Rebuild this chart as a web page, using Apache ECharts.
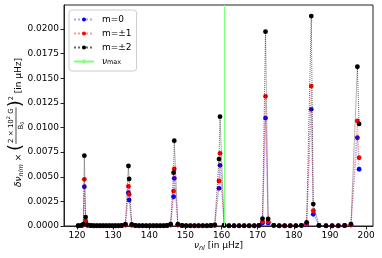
<!DOCTYPE html>
<html><head><meta charset="utf-8">
<script src="https://cdn.jsdelivr.net/npm/echarts@6/dist/echarts.min.js"></script>
<style>html,body{margin:0;padding:0;background:#fff}#c{width:382px;height:258px}</style>
</head><body><div id="c"></div>
<script>
// ---- data ----
const freq = [120.30,121.15,121.75,122.03,122.39,122.95,123.80,124.65,125.50,126.35,127.20,128.05,128.90,129.75,130.60,131.45,132.35,133.40,134.23,134.43,135.15,136.15,137.15,138.15,139.15,140.15,141.10,142.05,143.00,143.95,144.90,145.90,146.72,146.91,147.90,149.05,150.20,151.35,152.50,153.65,154.80,155.95,157.05,158.10,159.29,159.57,160.70,162.05,163.45,164.85,166.25,167.65,169.05,170.35,171.33,172.16,172.89,174.45,175.95,177.45,179.00,180.55,182.10,183.54,184.82,185.37,186.95,188.90,190.60,192.30,194.05,195.80,197.58,198.05];
const dnu_m0 = [0.00002,0.00003,0.00010,0.00399,0.00042,0.00006,0.00003,0.00002,0.00002,0.00002,0.00002,0.00002,0.00002,0.00002,0.00002,0.00002,0.00003,0.00010,0.00338,0.00264,0.00008,0.00003,0.00002,0.00002,0.00002,0.00002,0.00002,0.00002,0.00002,0.00002,0.00003,0.00010,0.00297,0.00484,0.00010,0.00003,0.00002,0.00002,0.00002,0.00002,0.00002,0.00002,0.00003,0.00006,0.00383,0.00616,0.00005,0.00002,0.00002,0.00002,0.00002,0.00002,0.00002,0.00004,0.00030,0.01096,0.00030,0.00004,0.00002,0.00002,0.00002,0.00002,0.00004,0.00015,0.01185,0.00119,0.00004,0.00002,0.00002,0.00002,0.00003,0.00010,0.00896,0.00576];
const dnu_m1 = [0.00002,0.00004,0.00013,0.00474,0.00054,0.00008,0.00003,0.00002,0.00002,0.00002,0.00002,0.00002,0.00002,0.00002,0.00002,0.00002,0.00004,0.00012,0.00403,0.00322,0.00010,0.00003,0.00002,0.00002,0.00002,0.00002,0.00002,0.00002,0.00002,0.00002,0.00004,0.00012,0.00355,0.00579,0.00012,0.00004,0.00002,0.00002,0.00002,0.00002,0.00002,0.00002,0.00004,0.00008,0.00457,0.00738,0.00006,0.00002,0.00002,0.00002,0.00002,0.00002,0.00002,0.00005,0.00044,0.01317,0.00044,0.00005,0.00002,0.00002,0.00002,0.00002,0.00005,0.00020,0.01421,0.00155,0.00005,0.00002,0.00002,0.00002,0.00004,0.00013,0.01067,0.00693];
const dnu_m2 = [0.00003,0.00006,0.00020,0.00714,0.00091,0.00012,0.00005,0.00003,0.00003,0.00003,0.00003,0.00003,0.00003,0.00003,0.00003,0.00003,0.00005,0.00018,0.00609,0.00477,0.00015,0.00005,0.00003,0.00003,0.00003,0.00003,0.00003,0.00003,0.00003,0.00003,0.00005,0.00018,0.00541,0.00866,0.00018,0.00005,0.00003,0.00003,0.00003,0.00003,0.00003,0.00003,0.00005,0.00012,0.00680,0.01110,0.00008,0.00003,0.00003,0.00003,0.00003,0.00003,0.00003,0.00007,0.00074,0.01973,0.00071,0.00007,0.00003,0.00003,0.00003,0.00003,0.00007,0.00037,0.02132,0.00223,0.00006,0.00003,0.00003,0.00003,0.00005,0.00020,0.01617,0.01036];
const numax = 160.8;
const seriesNames = ['m=0', 'm=±1', 'm=±2', 'νmax'];
const xTicks = [120,130,140,150,160,170,180,190,200];
const yTicks = [0.0000,0.0025,0.0050,0.0075,0.0100,0.0125,0.0150,0.0175,0.0200];

// ---- layout helpers ----
const FF = '"DejaVu Sans"';
const ctx = document.createElement('canvas').getContext('2d');
function fnt(s, it){ return (it ? 'italic ' : '') + s + 'px ' + FF; }
function tw(t, s, it){ ctx.font = fnt(s, it); return ctx.measureText(t).width; }
function runW(p){ return p.reduce((a, q) => a + tw(q.t, q.s, q.i), 0); }
function runEls(p, x0, y0){
  let x = x0; const els = [];
  for (const q of p){
    els.push({type:'text', style:{text:q.t, x:x, y:y0 + (q.dy||0), font:fnt(q.s,q.i), fill:'#000', textAlign:'left', textVerticalAlign:'middle'}});
    x += tw(q.t, q.s, q.i);
  }
  return els;
}
// y-axis label
function yLabel(){
  const p1 = [{t:'δν',s:9,i:true},{t:'nlm',s:6.5,i:true,dy:2.5},{t:' × ',s:9}];
  const pl = [{t:'(',s:18,dy:-2}];
  const num = [{t:'2 × 10',s:7,dy:-7.5},{t:'2',s:5,dy:-10},{t:' G',s:7,dy:-7.5}];
  const den = [{t:'B',s:7,dy:2.5},{t:'0',s:5,dy:4}];
  const pr = [{t:')',s:18,dy:-2}];
  const sup = [{t:'2',s:6.5,dy:-7}];
  const tail = [{t:' [in µHz]',s:9}];
  const fw = Math.max(runW(num), runW(den)) + 2;
  const total = runW(p1) + runW(pl) + fw + runW(pr) + runW(sup) + runW(tail);
  let x = -total/2; let els = [];
  els = els.concat(runEls(p1, x, 0)); x += runW(p1);
  els = els.concat(runEls(pl, x, 0)); x += runW(pl);
  els = els.concat(runEls(num, x + (fw - runW(num))/2, 0));
  els = els.concat(runEls(den, x + (fw - runW(den))/2, 0));
  els.push({type:'line', shape:{x1:x, y1:-2.5, x2:x+fw, y2:-2.5}, style:{stroke:'#000', lineWidth:0.7}});
  x += fw;
  els = els.concat(runEls(pr, x, 0)); x += runW(pr);
  els = els.concat(runEls(sup, x, 0)); x += runW(sup);
  els = els.concat(runEls(tail, x, 0));
  return {type:'group', x:18.5, y:122.5, rotation:Math.PI/2, children:els};
}
function xLabel(){
  const p = [{t:'ν',s:9,i:true},{t:'nl',s:6.5,i:true,dy:2.5},{t:' [in µHz]',s:9}];
  return {type:'group', x:218.5, y:246, children:runEls(p, -runW(p)/2, 0)};
}

const mk = arr => freq.map((f, i) => [f, arr[i]]);
const chart = echarts.init(document.getElementById('c'), null, {renderer:'canvas'});
const axisCommon = {
  axisLine:{show:true, lineStyle:{color:'#222', width:1}},
  splitLine:{show:false},
  minorTick:{show:false}
};
chart.setOption({
  animation:false,
  textStyle:{fontFamily:FF},
  grid:{left:64, right:9, top:5, bottom:32, show:true, borderColor:'#222', borderWidth:1, backgroundColor:'transparent'},
  xAxis:Object.assign({}, axisCommon, {
    type:'value', min:116.4, max:201.9,
    axisTick:{show:true, length:3.5, customValues:xTicks, lineStyle:{color:'#222', width:1}},
    axisLabel:{customValues:xTicks, margin:5, fontSize:9, color:'#000', fontFamily:FF, formatter:v => v.toFixed(0)}
  }),
  yAxis:Object.assign({}, axisCommon, {
    type:'value', min:0, max:0.02244,
    axisTick:{show:true, length:3.5, customValues:yTicks, lineStyle:{color:'#222', width:1}},
    axisLabel:{customValues:yTicks, margin:5, fontSize:9, color:'#000', fontFamily:FF, formatter:v => v.toFixed(4)}
  }),
  legend:{
    orient:'vertical', left:69, top:10, padding:[5,5,5,4], itemGap:5,
    itemWidth:20, itemHeight:5,
    backgroundColor:'rgba(255,255,255,0.8)', borderColor:'#cccccc', borderWidth:1, borderRadius:3,
    textStyle:{fontSize:9, color:'#000', fontFamily:FF, padding:[0,0,0,3],
      rich:{i:{fontSize:9, fontStyle:'italic', fontFamily:FF}, s:{fontSize:6.5, fontFamily:FF, verticalAlign:'bottom'}}},
    formatter:n => n === 'νmax' ? '{i|ν}{s|max}' : n,
    data:seriesNames
  },
  graphic:[yLabel(), xLabel()],
  series:[
    {name:seriesNames[0], type:'line', data:mk(dnu_m0), symbol:'circle', symbolSize:4.8, z:2,
     itemStyle:{color:'#0000ff'}, lineStyle:{color:'rgba(0,0,255,0.35)', width:1.2, type:'dotted'}},
    {name:seriesNames[1], type:'line', data:mk(dnu_m1), symbol:'circle', symbolSize:4.8, z:3,
     itemStyle:{color:'#ff0000'}, lineStyle:{color:'rgba(255,0,0,0.4)', width:1.2, type:'dotted'}},
    {name:seriesNames[2], type:'line', data:mk(dnu_m2), symbol:'circle', symbolSize:4.8, z:4,
     itemStyle:{color:'#000000'}, lineStyle:{color:'rgba(0,0,0,0.6)', width:1, type:'dotted'}},
    {name:seriesNames[3], type:'line', data:[], symbol:'none', z:1,
     itemStyle:{color:'#80ff80'}, lineStyle:{color:'#80ff80', width:1},
     markLine:{silent:true, symbol:['none','none'], label:{show:false}, animation:false,
       lineStyle:{color:'#80ff80', width:1, type:'solid'}, data:[{xAxis:numax}]}}
  ]
});
</script></body></html>
